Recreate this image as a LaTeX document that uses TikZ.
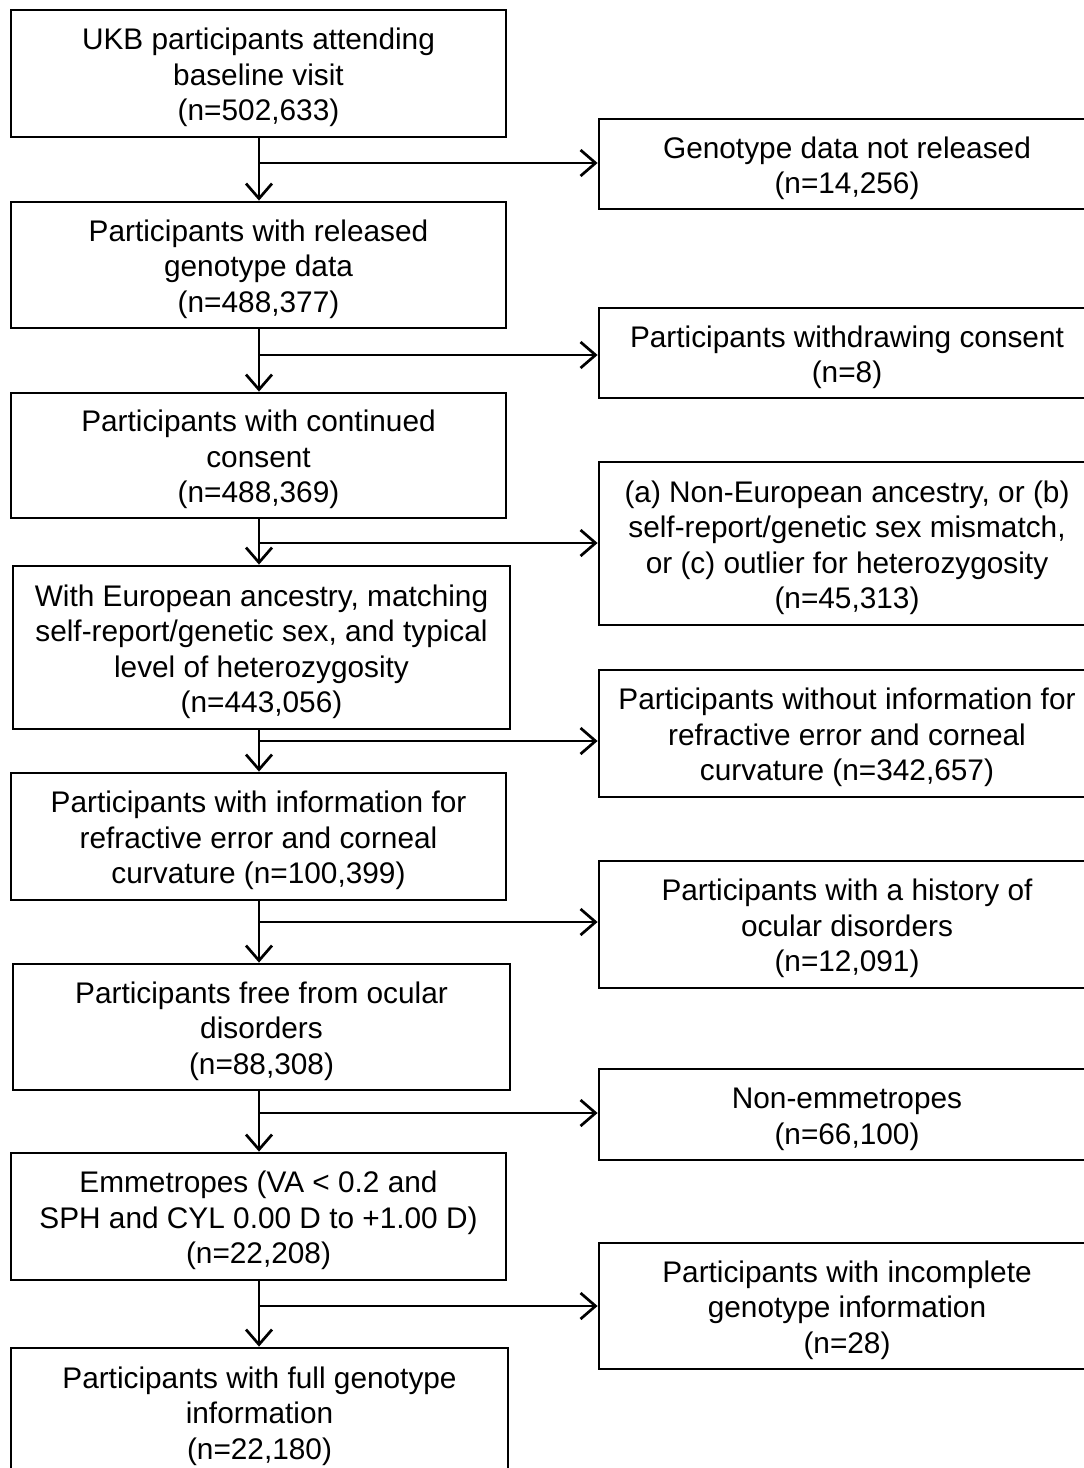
\documentclass[tikz,border=0pt]{standalone}
\usepackage{fontspec}
\setmainfont{Liberation Sans}
\usetikzlibrary{arrows.meta, positioning}
\newcommand{\topgap}{\rule{0pt}{30pt}}

\begin{document}
\begin{tikzpicture}[x=1pt, y=-1pt,
  box/.style={draw, line width=2.8pt, align=center, inner sep=0pt,
    font=\fontsize{29.8}{35.5}\selectfont},
  arr/.style={line width=2.7pt, -{Straight Barb[length=15pt, width=26pt]}}]
  \path[use as bounding box, clip] (0,0) rectangle (1084,1468);

  % main column
  \node[box, minimum width=495pt, minimum height=127pt] (base) at (258.5,73.5) {\topgap UKB participants attending\\baseline visit\\(n=502,633)};
  \node[box, minimum width=495pt, minimum height=126pt] (released) at (258.5,265) {\topgap Participants with released\\genotype data\\(n=488,377)};
  \node[box, minimum width=495pt, minimum height=125pt] (consent) at (258.5,455.5) {\topgap Participants with continued\\consent\\(n=488,369)};
  \node[box, minimum width=497pt, minimum height=163pt] (euro) at (261.5,647.5) {\topgap With European ancestry, matching\\self-report/genetic sex, and typical\\level of heterozygosity\\(n=443,056)};
  \node[box, minimum width=495pt, minimum height=127pt] (refinfo) at (258.5,836.5) {\topgap Participants with information for\\refractive error and corneal\\curvature (n=100,399)};
  \node[box, minimum width=497pt, minimum height=126pt] (free) at (261.5,1027) {\topgap Participants free from ocular\\disorders\\(n=88,308)};
  \node[box, minimum width=495pt, minimum height=127pt] (emme) at (258.5,1216.5) {\topgap Emmetropes (VA < 0.2 and\\SPH and CYL 0.00 D to +1.00 D)\\(n=22,208)};
  \node[box, minimum width=497pt, minimum height=128pt] (full) at (259.5,1412) {\topgap Participants with full genotype\\information\\(n=22,180)};

  % exclusions
  \node[box, minimum width=496pt, minimum height=90pt] (nogeno) at (847,164) {\topgap Genotype data not released\\(n=14,256)};
  \node[box, minimum width=496pt, minimum height=90pt] (withdrawn) at (847,353) {\topgap Participants withdrawing consent\\(n=8)};
  \node[box, minimum width=496pt, minimum height=163pt] (nonEuro) at (847,543.5) {\topgap (a) Non-European ancestry, or (b)\\self-report/genetic sex mismatch,\\or (c) outlier for heterozygosity\\(n=45,313)};
  \node[box, minimum width=496pt, minimum height=127pt] (noinfo) at (847,733.5) {\topgap Participants without information for\\refractive error and corneal\\curvature (n=342,657)};
  \node[box, minimum width=496pt, minimum height=127pt] (ocular) at (847,924.5) {\topgap Participants with a history of\\ocular disorders\\(n=12,091)};
  \node[box, minimum width=496pt, minimum height=91pt] (nonemme) at (847,1114.5) {\topgap Non-emmetropes\\(n=66,100)};
  \node[box, minimum width=496pt, minimum height=126pt] (incomplete) at (847,1306) {\topgap Participants with incomplete\\genotype information\\(n=28)};

  % branch points
  \coordinate (s1) at (259,163);
  \coordinate (s2) at (259,355);
  \coordinate (s3) at (259,543);
  \coordinate (s4) at (259,741);
  \coordinate (s5) at (259,922);
  \coordinate (s6) at (259,1113);
  \coordinate (s7) at (259,1306);

  \draw[arr] (base.south -| s1) -- (released.north -| s1);
  \draw[arr] (released.south -| s1) -- (consent.north -| s1);
  \draw[arr] (consent.south -| s1) -- (euro.north -| s1);
  \draw[arr] (euro.south -| s1) -- (refinfo.north -| s1);
  \draw[arr] (refinfo.south -| s1) -- (free.north -| s1);
  \draw[arr] (free.south -| s1) -- (emme.north -| s1);
  \draw[arr] (emme.south -| s1) -- (full.north -| s1);

  \draw[arr] (s1) -- (s1 -| nogeno.west);
  \draw[arr] (s2) -- (s2 -| withdrawn.west);
  \draw[arr] (s3) -- (s3 -| nonEuro.west);
  \draw[arr] (s4) -- (s4 -| noinfo.west);
  \draw[arr] (s5) -- (s5 -| ocular.west);
  \draw[arr] (s6) -- (s6 -| nonemme.west);
  \draw[arr] (s7) -- (s7 -| incomplete.west);
\end{tikzpicture}
\end{document}
